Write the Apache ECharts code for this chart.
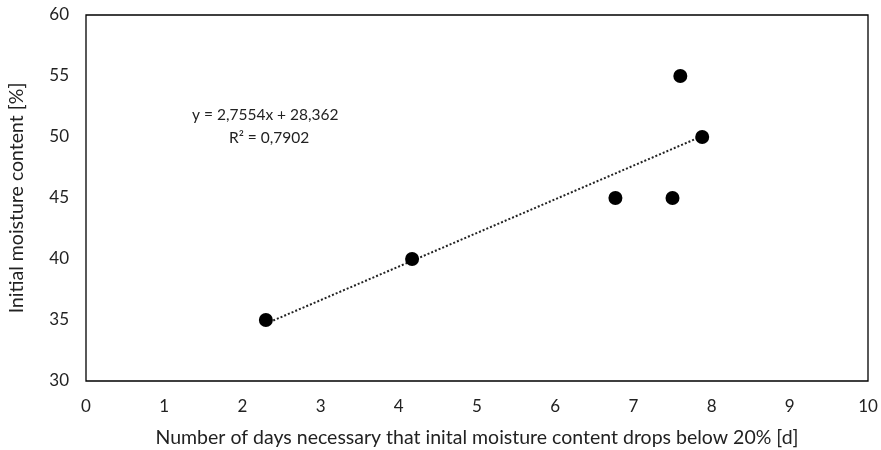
<!DOCTYPE html>
<html>
<head>
<meta charset="utf-8">
<script src="https://cdn.jsdelivr.net/npm/echarts@6/dist/echarts.min.js"></script>
<style>
  html, body { margin: 0; padding: 0; background: #fff; }
  #chart { width: 881px; height: 450px; }
</style>
</head>
<body>
<div id="chart"></div>
<script>
// measured points
const daysValues = [2.3, 4.17, 6.77, 7.5, 7.6, 7.88];
const moistureValues = [35, 40, 45, 45, 55, 50];

// linear trendline as printed on the chart
const trendSlope = 2.7554;
const trendIntercept = 28.362;
const trendLabel = 'y = 2,7554x + 28,362';
const r2Label = 'R² = 0,7902';

const xTicks = [0, 1, 2, 3, 4, 5, 6, 7, 8, 9, 10];
const yTicks = [30, 35, 40, 45, 50, 55, 60];

const fontFamily = 'Lato, "Open Sans", sans-serif';
const tickSize = 17;
const titleSize = 19.5;
const eqSize = 15.5;

// trendline spans the data x-range
const xMin = Math.min(...daysValues);
const xMax = Math.max(...daysValues);
const trendData = [
  [xMin, trendSlope * xMin + trendIntercept],
  [xMax, trendSlope * xMax + trendIntercept]
];

const chart = echarts.init(document.getElementById('chart'));

const option = {
  animation: false,
  grid: {
    left: 86,
    right: 13,
    top: 15,
    bottom: 69,
    outerBoundsMode: 'none',
    containLabel: false,
    show: true,
    borderColor: '#000',
    borderWidth: 1.3
  },
  xAxis: {
    type: 'value',
    min: xTicks[0],
    max: xTicks[xTicks.length - 1],
    interval: 1,
    name: 'Number of days necessary that inital moisture content drops below 20% [d]',
    nameLocation: 'middle',
    nameGap: 47,
    nameTextStyle: { fontFamily, fontSize: titleSize, color: '#222' },
    axisLine: { show: false },
    axisTick: { show: false },
    splitLine: { show: false },
    axisLabel: { fontFamily, fontSize: tickSize, color: '#222', margin: 17 }
  },
  yAxis: {
    type: 'value',
    min: yTicks[0],
    max: yTicks[yTicks.length - 1],
    interval: 5,
    name: 'Initial moisture content [%]',
    nameLocation: 'middle',
    nameGap: 59,
    nameTextStyle: { fontFamily, fontSize: titleSize, color: '#222' },
    axisLine: { show: false },
    axisTick: { show: false },
    splitLine: { show: false },
    axisLabel: { fontFamily, fontSize: tickSize, color: '#222', margin: 17 }
  },
  series: [
    {
      name: 'trend',
      type: 'line',
      data: trendData,
      symbol: 'none',
      lineStyle: { color: '#222', width: 2, type: 'dotted' },
      z: 1
    },
    {
      name: 'points',
      type: 'scatter',
      data: daysValues.map((d, i) => [d, moistureValues[i]]),
      symbol: 'circle',
      symbolSize: 14,
      itemStyle: { color: '#000', opacity: 1 },
      z: 2
    }
  ],
  graphic: [
    {
      type: 'text',
      left: 192,
      top: 107,
      style: { text: trendLabel, font: eqSize + 'px ' + fontFamily, fill: '#222' }
    },
    {
      type: 'text',
      left: 229,
      top: 130,
      style: { text: r2Label, font: eqSize + 'px ' + fontFamily, fill: '#222' }
    }
  ]
};

chart.setOption(option);
</script>
</body>
</html>
